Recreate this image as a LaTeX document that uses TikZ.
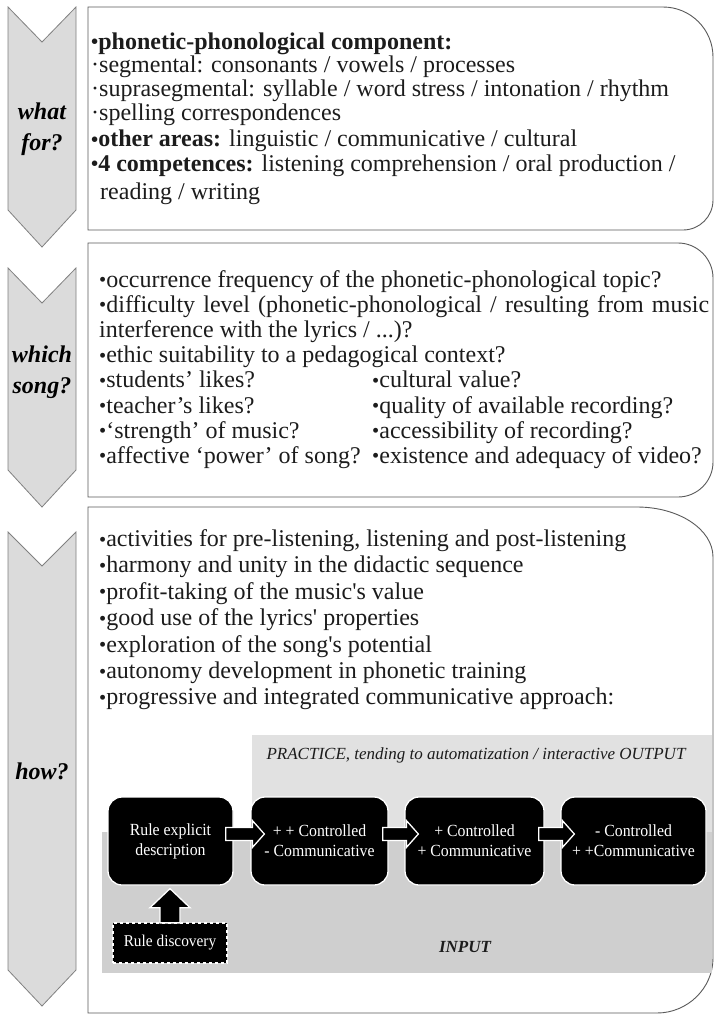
\documentclass[tikz,border=0pt]{standalone}
\usepackage{fontspec}
\setmainfont{Liberation Serif}[Ligatures=TeXOff]
\newfontfamily\condserif{Liberation Serif}[FakeStretch=0.93,Ligatures=TeXOff]
\usetikzlibrary{calc}
\definecolor{chevfill}{HTML}{DBDBDB}
\definecolor{chevline}{HTML}{808080}
\definecolor{panelline}{HTML}{5A5A5A}
\definecolor{txt}{HTML}{1C1C1C}
\definecolor{graylight}{HTML}{E1E1E1}
\definecolor{graydark}{HTML}{CFCFCF}
\newcommand{\bul}{\raisebox{0.5pt}{\scalebox{0.85}{•}}}
\begin{document}
\begin{tikzpicture}[x=1pt,y=-1pt,
  chevron/.style={fill=chevfill, draw=chevline, line width=0.8},
  panel/.style={fill=white, draw=panelline, line width=0.9},
  steplabel/.style={font=\fontsize{24}{31}\selectfont\bfseries\itshape, align=center, text=black, inner sep=0},
  body/.style={font=\fontsize{24}{25}\selectfont, anchor=base west, inner sep=0, text=txt},
  blackbox/.style={fill=black, draw=white, line width=1.3, rounded corners=14, minimum height=88, inner sep=2,
    font=\condserif\fontsize{17}{20}\selectfont, text=white, align=center},
  dashbox/.style={fill=black, draw=white, dashed, line width=1.3, minimum width=114, minimum height=40, inner sep=2,
    font=\condserif\fontsize{16.5}{20}\selectfont, text=white},
  barrow/.style={fill=black, draw=white, line width=1.3, line join=miter},
  zonetext/.style={font=\fontsize{17}{20}\selectfont\itshape, text=txt, inner sep=0}
]
\useasboundingbox (0,0) rectangle (714,1015);
\fill[white] (0,0) rectangle (714,1015);

% chevrons
\draw[chevron] (8,7) -- (42,42) -- (76,7) -- (76,210) -- (42,247) -- (8,210) -- cycle;
\draw[chevron] (8,268) -- (42,303) -- (76,268) -- (76,470) -- (42,507) -- (8,470) -- cycle;
\draw[chevron] (8,532) -- (42,566) -- (76,532) -- (76,970) -- (42,1006) -- (8,970) -- cycle;
\node[steplabel] (lab1) at (42,129) {what\\for?};
\node[steplabel] (lab2) at (42,372) {which\\song?};
\node[steplabel] (lab3) at (42,771) {how?};

% panels
\draw[panel] (88,7) -- (663,7) .. controls (690.6,7) and (713,29.4) .. (713,57) -- (713,200)
  .. controls (713,216.6) and (699.6,230) .. (683,230) -- (88,230) -- cycle;
\draw[panel] (88,243) -- (678,243) .. controls (697.3,243) and (713,258.7) .. (713,278) -- (713,462)
  .. controls (713,481.3) and (697.3,497) .. (678,497) -- (88,497) -- cycle;
\draw[panel] (88,507) -- (637,507) .. controls (679,507) and (713,529.4) .. (713,557) -- (713,958)
  .. controls (713,988.4) and (687.4,1013) .. (657,1013) -- (88,1013) -- cycle;

% panel 1 text
\node[body] (a1) at (91,49) {\bfseries \bul phonetic-phonological component:};
\node[body] (a2) at (91,72.5) {·segmental: consonants / vowels / processes};
\node[body] (a3) at (91,96.5) {·suprasegmental: syllable / word stress / intonation / rhythm};
\node[body] (a4) at (91,120.5) {·spelling correspondences};
\node[body] (a5) at (91,146.5) {\textbf{\bul other areas:} linguistic / communicative / cultural};
\node[body] (a6) at (91,171) {\textbf{\bul 4 competences:} listening comprehension / oral production /};
\node[body] (a7) at (100,199) {reading / writing};

% panel 2 text
\node[body] (b1t) at (99,287) {\bul occurrence frequency of the phonetic-phonological topic?};
\node[body] (b2t) at (99,312.2) {\makebox[610pt][s]{\bul difficulty level (phonetic-phonological / resulting from music}};
\node[body] (b3t) at (99,337.4) {interference with the lyrics / ...)?};
\node[body] (b4t) at (99,362.6) {\bul ethic suitability to a pedagogical context?};
\node[body] (b5t) at (99,387.8) {\bul students’ likes?};
\node[body] (b6t) at (99,413) {\bul teacher’s likes?};
\node[body] (b7t) at (99,438.2) {\bul ‘strength’ of music?};
\node[body] (b8t) at (99,463.4) {\bul affective ‘power’ of song?};
\node[body] (c5t) at (372,387.8) {\bul cultural value?};
\node[body] (c6t) at (372,413) {\bul quality of available recording?};
\node[body] (c7t) at (372,438.2) {\bul accessibility of recording?};
\node[body] (c8t) at (372,463.4) {\bul existence and adequacy of video?};

% panel 3 text
\node[body] (d1) at (99,546.5) {\bul activities for pre-listening, listening and post-listening};
\node[body] (d2) at (99,572.9) {\bul harmony and unity in the didactic sequence};
\node[body] (d3) at (99,599.3) {\bul profit-taking of the music's value};
\node[body] (d4) at (99,625.7) {\bul good use of the lyrics' properties};
\node[body] (d5) at (99,652.1) {\bul exploration of the song's potential};
\node[body] (d6) at (99,678.5) {\bul autonomy development in phonetic training};
\node[body] (d7) at (99,704.9) {\bul progressive and integrated communicative approach:};

% gray zones
\fill[graylight] (252,735) rectangle (712,832);
\fill[graydark] (102,832) rectangle (712,973);
\node[zonetext] (practice) at (476,755) {PRACTICE, tending to automatization / interactive OUTPUT};
\node[zonetext, font=\fontsize{17}{20}\selectfont\bfseries\itshape] (input) at (465,947) {INPUT};

% boxes
\node[blackbox, minimum width=125] (r1) at (170.5,841) {Rule explicit\\description};
\node[blackbox, minimum width=137] (r2) at (319.5,841) {+ + Controlled\\- Communicative};
\node[blackbox, minimum width=139] (r3) at (474.5,841) {+ Controlled\\+ Communicative};
\node[blackbox, minimum width=145] (r4) at (633.5,841) {- Controlled\\+ +Communicative};
\node[dashbox] (rd) at (170,943) {Rule discovery};

% block arrows
\foreach \s/\t/\o in {r1/r2/8, r2/r3/6, r3/r4/6}{
  \draw[barrow] let \p1=(\s.east), \p2=(\t.west) in
    (\x1-\o pt,\y1+13.5pt) -- (\x2+2pt,\y1+13.5pt) -- (\x2+2pt,\y1+20.5pt) -- (\x2+14pt,\y1+7pt)
    -- (\x2+2pt,\y1-6.5pt) -- (\x2+2pt,\y1+0.5pt) -- (\x1-\o pt,\y1+0.5pt) -- cycle;
}
\draw[barrow] let \p1=(rd.north), \p2=(r1.south) in
  (\x1-10pt,\y1-0.5pt) -- (\x1-10pt,\y2-22pt) -- (\x1-20pt,\y2-22pt) -- (\x1,\y2-3pt)
  -- (\x1+20pt,\y2-22pt) -- (\x1+10pt,\y2-22pt) -- (\x1+10pt,\y1-0.5pt) -- cycle;
\end{tikzpicture}
\end{document}
